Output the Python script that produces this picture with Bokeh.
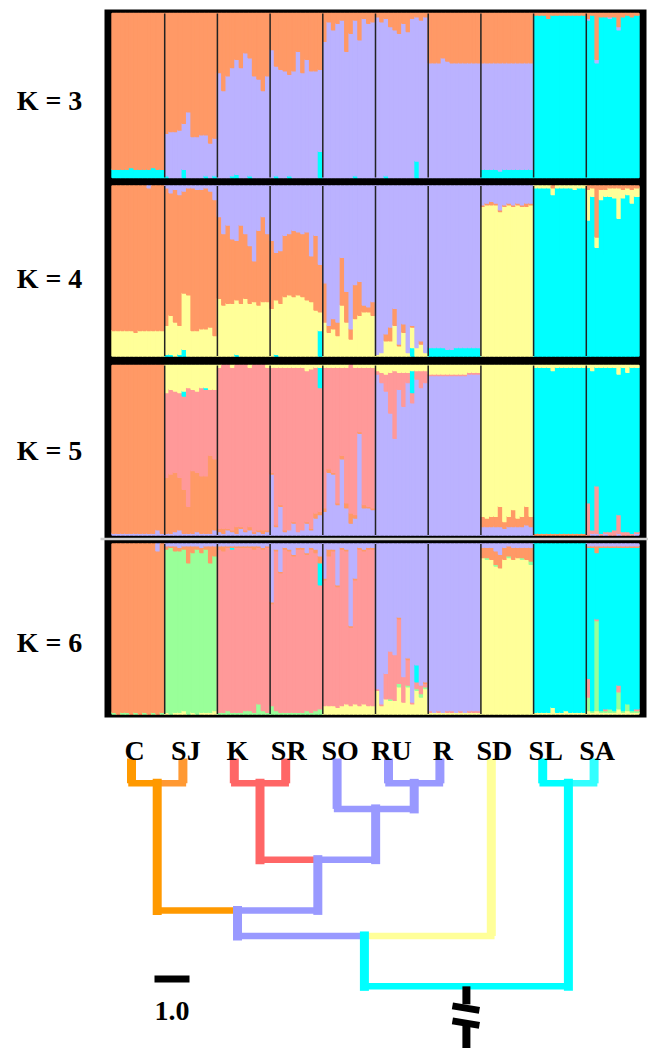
from bokeh.plotting import figure
from bokeh.models import Range1d, ColumnDataSource
from bokeh.core.properties import value
from bokeh.embed import file_html
from bokeh.resources import INLINE

# ---------------- data ----------------
POPS = ["C", "SJ", "K", "SR", "SO", "RU", "R", "SD", "SL", "SA"]
N_IND = 12
K_VALUES = [3, 4, 5, 6]

CLUSTER_COLORS = {"orange": "#FF9966", "lav": "#BBB2FF", "cyan": "#00FFFF",
                  "yellow": "#FFFF99", "pink": "#FF9999", "green": "#99FF99"}

# rows: one per population (percent per individual); 0 = all zero; None = remainder
K3_ORDER = ["cyan", "lav", "orange"]
K3_CYAN = [
    [5, 5, 5, 5, 6, 5, 5, 5, 5, 6, 5, 5],
    [1, 0, 0, 0, 5, 0, 0, 0, 0, 1, 0, 1],
    [0, 0, 0, 1, 2, 0, 0, 1, 0, 0, 0, 0],
    [0, 1, 0, 0, 1, 0, 0, 0, 0, 0, 0, 16],
    [0, 0, 0, 0, 0, 0, 0, 1, 0, 0, 0, 0],
    [0, 0, 1, 0, 0, 0, 0, 0, 0, 10, 0, 0],
    0,
    [5, 5, 5, 5, 4, 5, 5, 5, 5, 5, 5, 5],
    None,
    None,
]
K3_LAV = [
    0,
    [26, 28, 28, 29, 28, 40, 25, 25, 26, 25, 21, 23],
    [64, 53, 62, 66, 70, 67, 76, 72, 62, 60, 53, 62],
    [78, 67, 66, 65, 62, 65, 77, 64, 72, 65, 65, 50],
    [83, 95, 90, 94, 96, 77, 88, 95, 84, 97, 94, 95],
    [98, 95, 96, 92, 90, 88, 94, 89, 97, 88, 96, 98],
    [70, 70, 70, 73, 71, 70, 70, 70, 70, 70, 70, 70],
    [65, 65, 65, 65, 66, 65, 65, 65, 65, 65, 65, 65],
    0,
    [1, 0, 2, 0, 0, 1, 0, 2, 0, 0, 0, 0],
]
K3_ORANGE = [
    None, None, None, None, None, None, None, None,
    [1, 1, 1, 3, 1, 1, 1, 1, 1, 1, 1, 1],
    [3, 1, 28, 2, 2, 2, 2, 8, 2, 1, 2, 1],
]

K4_ORDER = ["cyan", "yellow", "orange", "lav"]
K4_CYAN = [
    0,
    [1, 1, 0, 1, 4, 0, 0, 0, 0, 0, 0, 0],
    [0, 0, 0, 0, 1, 0, 0, 0, 0, 0, 0, 0],
    [0, 1, 0, 0, 0, 0, 0, 0, 0, 0, 0, 15],
    0,
    [0, 0, 0, 0, 0, 0, 0, 0, 5, 0, 0, 0],
    [5, 5, 5, 5, 4, 4, 5, 5, 5, 5, 5, 5],
    0,
    None,
    None,
]
K4_YELLOW = [
    [15, 15, 15, 15, 15, 14, 15, 15, 15, 15, 15, 15],
    [17, 23, 20, 17, 33, 36, 15, 15, 16, 16, 17, 12],
    [34, 30, 31, 31, 32, 31, 34, 31, 32, 30, 32, 32],
    [28, 32, 31, 35, 36, 35, 36, 35, 33, 32, 27, 11],
    [20, 14, 16, 12, 30, 20, 10, 22, 24, 26, 26, 24],
    [1, 2, 9, 9, 18, 6, 14, 2, 12, 5, 7, 2],
    0,
    [88, 89, 89, 89, 85, 88, 89, 88, 89, 88, 88, 89],
    [1, 1, 1, 1, 4, 1, 1, 1, 1, 2, 1, 1],
    [18, 5, 6, 6, 4, 5, 6, 18, 5, 4, 8, 5],
]
K4_ORANGE = [
    None,
    None,
    [48, 42, 46, 38, 35, 46, 38, 34, 24, 44, 50, 40],
    [40, 28, 31, 36, 36, 39, 37, 37, 40, 27, 44, 28],
    [23, 4, 6, 8, 28, 18, 6, 20, 20, 4, 3, 8],
    [0, 0, 4, 8, 10, 1, 5, 0, 1, 0, 2, 0],
    0,
    [1, 1, 2, 1, 1, 1, 1, 1, 1, 1, 2, 1],
    [0, 0, 0, 0, 1, 0, 0, 0, 0, 0, 0, 0],
    [2, 1, 30, 2, 2, 1, 1, 1, 2, 1, 2, 1],
]
K4_LAV = [
    [0, 0, 0, 0, 0, 0, 0, 0, 1, 0, 0, 0],
    [1, 4, 2, 5, 3, 1, 1, 2, 2, 1, 3, 8],
    None, None, None, None, None, None,
    0,
    0,
]

K5_ORDER = ["lav", "orange", "pink", "cyan", "yellow"]
K5_LAV = [
    [1, 1, 1, 1, 1, 1, 1, 1, 1, 1, 3, 1],
    [1, 1, 2, 3, 1, 1, 1, 2, 1, 1, 1, 3],
    [2, 1, 3, 2, 1, 4, 2, 3, 1, 2, 1, 2],
    [36, 5, 17, 2, 3, 7, 2, 3, 7, 3, 10, 12],
    [14, 37, 36, 18, 45, 16, 7, 10, 60, 16, 16, 15],
    [95, 90, 85, 72, 57, 86, 76, 90, 78, 92, 87, 90],
    [94, 94, 94, 94, 94, 94, 94, 94, 94, 95, 95, 95],
    [5, 5, 5, 5, 5, 4, 5, 5, 5, 5, 6, 5],
    0,
    [0, 1, 1, 0, 1, 0, 0, 1, 0, 0, 0, 1],
]
K5_ORANGE = [
    None,
    [33, 35, 35, 31, 26, 16, 37, 35, 34, 34, 46, 42],
    [2, 3, 1, 1, 4, 1, 1, 2, 1, 1, 2, 1],
    [1, 1, 1, 1, 0, 1, 0, 0, 1, 1, 3, 2],
    [2, 2, 1, 1, 2, 3, 6, 2, 1, 2, 1, 1],
    0,
    0,
    [6, 5, 6, 6, 12, 4, 6, 10, 5, 6, 11, 6],
    [1, 1, 1, 1, 1, 1, 1, 1, 1, 1, 1, 1],
    0,
]
K5_PINK = [
    0,
    [50, 50, 48, 50, 55, 70, 48, 48, 52, 51, 39, 41],
    None,
    None,
    None,
    [2, 6, 10, 24, 40, 10, 20, 6, 6, 5, 10, 7],
    [1, 1, 1, 1, 1, 1, 1, 1, 1, 1, 1, 1],
    0,
    0,
    [19, 2, 28, 1, 1, 2, 3, 11, 2, 2, 1, 1],
]
K5_CYAN = [
    0,
    [0, 0, 0, 0, 3, 0, 0, 0, 0, 1, 0, 0],
    0,
    [0, 0, 0, 0, 0, 0, 0, 0, 0, 0, 0, 12],
    0,
    [0, 0, 0, 0, 0, 0, 0, 0, 13, 0, 0, 0],
    0,
    0,
    None,
    None,
]
K5_YELLOW = [
    0,
    None,
    [1, 0, 0, 1, 0, 0, 0, 1, 0, 0, 0, 1],
    [1, 1, 1, 1, 1, 1, 1, 1, 3, 2, 1, 1],
    [1, 1, 1, 1, 1, 1, 0, 1, 1, 1, 1, 1],
    None,
    None,
    None,
    [1, 1, 1, 1, 3, 1, 1, 1, 1, 1, 1, 1],
    [1, 3, 1, 1, 1, 1, 1, 5, 1, 4, 1, 1],
]

K6_ORDER = ["yellow", "green", "pink", "cyan", "orange", "lav"]
K6_YELLOW = [
    0,
    [1, 0, 1, 1, 2, 0, 1, 0, 1, 1, 1, 2],
    0,
    0,
    [5, 5, 5, 4, 5, 6, 5, 6, 5, 6, 5, 5],
    [14, 5, 9, 8, 8, 16, 7, 16, 6, 14, 10, 15],
    [1, 1, 1, 1, 1, 1, 1, 1, 1, 1, 1, 1],
    [92, 91, 91, 87, 86, 91, 92, 91, 92, 91, 91, 88],
    [1, 1, 1, 1, 4, 1, 1, 2, 1, 1, 1, 1],
    [2, 1, 2, 1, 1, 1, 1, 3, 1, 2, 1, 1],
]
K6_GREEN = [
    [1, 0, 1, 1, 0, 1, 0, 1, 0, 1, 0, 1],
    None,
    [1, 1, 2, 1, 1, 1, 2, 2, 1, 6, 2, 1],
    [5, 2, 1, 1, 1, 1, 1, 1, 2, 1, 2, 3],
    0,
    [0, 0, 0, 1, 0, 2, 0, 1, 0, 1, 2, 1],
    0,
    [0, 1, 0, 1, 0, 0, 1, 0, 0, 1, 0, 2],
    0,
    [8, 1, 53, 1, 1, 2, 1, 10, 1, 4, 1, 1],
]
K6_PINK = [
    0,
    0,
    None,
    None,
    None,
    [1, 1, 15, 28, 27, 38, 15, 15, 1, 4, 5, 2],
    [1, 0, 1, 0, 1, 1, 0, 1, 0, 1, 1, 1],
    0,
    0,
    [11, 0, 1, 0, 1, 0, 0, 4, 0, 0, 0, 1],
]
K6_CYAN = [
    0,
    0,
    [0, 0, 0, 1, 0, 0, 0, 0, 0, 0, 0, 0],
    [0, 0, 0, 0, 0, 0, 0, 0, 0, 0, 0, 13],
    0,
    [0, 0, 0, 0, 0, 0, 0, 0, 0, 10, 0, 0],
    0,
    0,
    None,
    None,
]
K6_ORANGE = [
    None,
    [2, 1, 3, 2, 2, 10, 4, 2, 3, 2, 10, 6],
    [2, 3, 1, 1, 1, 1, 1, 1, 2, 1, 1, 1],
    [1, 1, 1, 1, 1, 1, 1, 1, 1, 1, 2, 4],
    [1, 4, 1, 1, 1, 1, 1, 1, 1, 1, 1, 1],
    [0, 0, 0, 0, 0, 1, 0, 1, 0, 0, 0, 1],
    0,
    [6, 6, 7, 8, 8, 7, 6, 7, 6, 6, 7, 8],
    0,
    [1, 1, 4, 1, 1, 1, 1, 1, 1, 1, 1, 1],
]
K6_LAV = [
    [0, 0, 0, 0, 0, 0, 0, 0, 0, 0, 4, 0],
    [1, 1, 1, 2, 1, 1, 1, 1, 2, 1, 1, 1],
    [1, 1, 1, 1, 1, 1, 1, 1, 1, 1, 2, 1],
    [34, 3, 16, 2, 3, 6, 2, 2, 5, 2, 3, 7],
    [20, 3, 3, 24, 2, 3, 48, 20, 2, 3, 2, 2],
    None,
    None,
    None,
    0,
    [1, 1, 1, 1, 1, 1, 1, 1, 1, 1, 1, 1],
]

# dendrogram (tips in POPS order, heights in branch-length units from the tips)
TIP_COLORS = ["#FF9900", "#FF9933", "#FF6666", "#FF6666", "#9999FF",
              "#9999FF", "#9999FF", "#FFFF99", "#00FFFF", "#33FFFF"]
NODE_NAMES = ["n1", "n2", "n3", "n4", "n5", "n6", "n7", "n8", "root"]
NODE_LEFT = ["C", "K", "RU", "SO", "n2", "n1", "n6", "SL", "n7"]
NODE_RIGHT = ["SJ", "SR", "R", "n3", "n4", "n5", "SD", "SA", "n8"]
NODE_HEIGHT = [0.71, 0.71, 0.71, 1.44, 2.89, 4.34, 5.07, 0.71, 6.51]
NODE_COLOR = ["#FF9900", "#FF6666", "#9999FF", "#9999FF", "#9999FF",
              "#9999FF", "#00FFFF", "#00FFFF", None]
SCALE_LEN = 1.0

# ---------------- layout ----------------
W, H = 648, 1048
OX, OY = 0, 0
TREE_PX = 35.0
TIP_PX = 51.4


def xr(v0, p0, v1, p1):
    s = (p1 - p0) / (v1 - v0)
    return Range1d(v0 + (OX - p0) / s, v0 + (OX + W - p0) / s)


def yr(v0, p0, v1, p1):
    s = (p1 - p0) / (v1 - v0)
    return Range1d(start=v0 + (OY + H - p0) / s, end=v0 + (OY - p0) / s)


PANEL_PX = {3: (177.0, 13.0), 4: (355.5, 185.5), 5: (534.5, 365.0), 6: (713.5, 543.5)}
K_LABEL_Y = {3: 100, 4: 278, 5: 450, 6: 642}

p = figure(width=W, height=H, x_range=Range1d(OX, OX + W), y_range=Range1d(OY + H, OY),
           x_axis_type=None, y_axis_type=None, toolbar_location=None,
           output_backend="svg", min_border=0, outline_line_color=None)
p.grid.visible = False
p.background_fill_color = "white"
p.border_fill_color = "white"

p.extra_x_ranges = {"ind": xr(0, 111.5, len(POPS) * N_IND, 638.5),
                    "tip": xr(0, 131.0, 1, 131.0 + TIP_PX)}
yranges = {f"k{k}": yr(0, PANEL_PX[k][0], 1, PANEL_PX[k][1]) for k in K_VALUES}
yranges["tree"] = yr(0, 758.0, 1, 758.0 + TREE_PX)
p.extra_y_ranges = yranges

# black frame behind the panels
p.quad(left=[104], right=[646], top=[9], bottom=[717], fill_color="black", line_color=None)

PANELS = [
    (3, K3_ORDER, {"cyan": K3_CYAN, "lav": K3_LAV, "orange": K3_ORANGE}),
    (4, K4_ORDER, {"cyan": K4_CYAN, "yellow": K4_YELLOW, "orange": K4_ORANGE, "lav": K4_LAV}),
    (5, K5_ORDER, {"lav": K5_LAV, "orange": K5_ORANGE, "pink": K5_PINK, "cyan": K5_CYAN,
                   "yellow": K5_YELLOW}),
    (6, K6_ORDER, {"yellow": K6_YELLOW, "green": K6_GREEN, "pink": K6_PINK, "cyan": K6_CYAN,
                   "orange": K6_ORANGE, "lav": K6_LAV}),
]

for k, order, data in PANELS:
    L, R, B, T, C = [], [], [], [], []
    for pi in range(len(POPS)):
        for j in range(N_IND):
            vals = {}
            for c in order:
                row = data[c][pi]
                if row is None:
                    vals[c] = None
                elif isinstance(row, int):
                    vals[c] = row
                else:
                    vals[c] = row[j]
            fill = [c for c in order if vals[c] is None][0]
            vals[fill] = max(0, 100 - sum(v for v in vals.values() if v is not None))
            tot = sum(vals.values())
            cum = 0.0
            for c in order:
                v = vals[c]
                if v > 0:
                    L.append(pi * N_IND + j)
                    R.append(pi * N_IND + j + 1)
                    B.append(cum / tot)
                    T.append((cum + v) / tot)
                    C.append(CLUSTER_COLORS[c])
                cum += v
    src = ColumnDataSource(dict(left=L, right=R, bottom=B, top=T, color=C))
    p.quad(left="left", right="right", bottom="bottom", top="top", source=src,
           fill_color="color", line_color="color", line_width=1.4,
           x_range_name="ind", y_range_name=f"k{k}")
    bx = [N_IND * i for i in range(1, len(POPS))]
    p.segment(x0=bx, x1=bx, y0=[0] * len(bx), y1=[1] * len(bx), line_color="#222222",
              line_width=1.5, x_range_name="ind", y_range_name=f"k{k}")

# light separator between K=5 and K=6 boxes
p.segment(x0=[100], x1=[648], y0=[538.5], y1=[538.5], line_color="#d0d0d0", line_width=2.5)

SERIF = value("Liberation Serif")
p.text(x=[49] * len(K_VALUES), y=[K_LABEL_Y[k] for k in K_VALUES],
       text=[f"K = {k}" for k in K_VALUES], text_font=SERIF, text_font_style="bold",
       text_font_size="28px", text_align="center", text_baseline="alphabetic",
       text_color="black")

# ---------------- dendrogram ----------------
pos = {t: (float(i), 0.0) for i, t in enumerate(POPS)}
stem = dict(zip(POPS, TIP_COLORS))
parent = {}
for name, l, r, h, c in zip(NODE_NAMES, NODE_LEFT, NODE_RIGHT, NODE_HEIGHT, NODE_COLOR):
    pos[name] = ((pos[l][0] + pos[r][0]) / 2.0, h)
    stem[name] = c
    parent[l] = name
    parent[r] = name

hx0, hx1, hy, hc = [], [], [], []
for name, l, r in zip(NODE_NAMES, NODE_LEFT, NODE_RIGHT):
    for ch in (l, r):
        hx0.append(pos[ch][0]); hx1.append(pos[name][0]); hy.append(pos[name][1])
        hc.append(stem[ch])
p.segment(x0=hx0, x1=hx1, y0=hy, y1=hy, line_color=hc, line_width=6.5, line_cap="square",
          x_range_name="tip", y_range_name="tree")

nx, ny0, ny1, nc = [], [], [], []
for name in NODE_NAMES:
    if name in parent:
        nx.append(pos[name][0]); ny0.append(pos[name][1]); ny1.append(pos[parent[name]][1])
        nc.append(stem[name])
p.segment(x0=nx, x1=nx, y0=ny0, y1=ny1, line_color=nc, line_width=9, line_cap="square",
          x_range_name="tip", y_range_name="tree")

tx = [pos[t][0] for t in POPS]
p.segment(x0=tx, x1=tx, y0=[0.0] * len(POPS), y1=[pos[parent[t]][1] for t in POPS],
          line_color=TIP_COLORS, line_width=9, line_cap="butt",
          x_range_name="tip", y_range_name="tree")

# root stem with break mark
rx, rh = pos["root"]
vx = [rx, rx]
vy0 = [rh, rh + 37 / TREE_PX]
vy1 = [rh + 18 / TREE_PX, rh + 75 / TREE_PX]
p.segment(x0=vx, x1=vx, y0=vy0, y1=vy1, line_color="black", line_width=8, line_cap="butt",
          x_range_name="tip", y_range_name="tree")
p.segment(x0=[rx - 14 / TIP_PX] * 2, x1=[rx + 13 / TIP_PX] * 2,
          y0=[rh + 19.5 / TREE_PX, rh + 34.5 / TREE_PX],
          y1=[rh + 24 / TREE_PX, rh + 39 / TREE_PX],
          line_color="black", line_width=7, line_cap="butt",
          x_range_name="tip", y_range_name="tree")

p.text(x=tx, y=[750] * len(POPS), text=POPS, x_offset=3, text_font=SERIF,
       text_font_style="bold", text_font_size="28px", text_align="center",
       text_baseline="alphabetic", text_color="black", x_range_name="tip")

# scale bar
p.segment(x0=[154], x1=[154 + SCALE_LEN * TREE_PX], y0=[978.5], y1=[978.5],
          line_color="black", line_width=7, line_cap="butt")
p.text(x=[154 + SCALE_LEN * TREE_PX / 2], y=[1010], text=[f"{SCALE_LEN:.1f}"],
       text_font=SERIF, text_font_style="bold", text_font_size="28px",
       text_align="center", text_baseline="alphabetic", text_color="black")

open("out.html", "w").write(file_html(p, INLINE))
